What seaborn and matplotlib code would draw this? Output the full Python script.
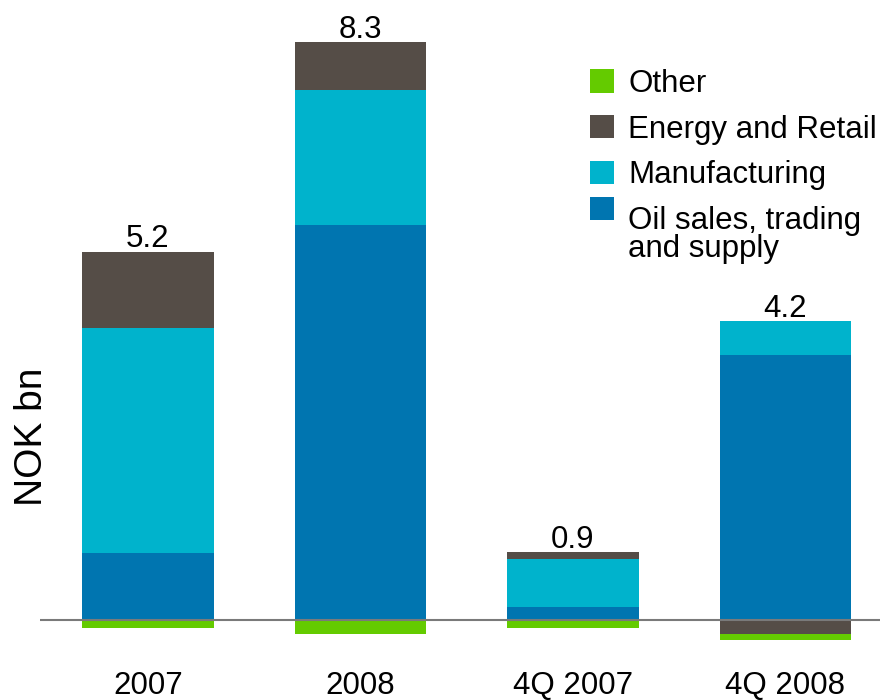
import matplotlib
matplotlib.use("Agg")
import matplotlib.pyplot as plt
import seaborn as sns
import numpy as np
import pandas as pd

# ---- data ----
categories = ["2007", "2008", "4Q 2007", "4Q 2008"]
oil_sales = [0.99, 5.84, 0.19, 3.92]
manufacturing = [3.33, 2.01, 0.71, 0.50]
energy_retail = [1.13, 0.71, 0.10, -0.21]
other = [-0.12, -0.21, -0.12, -0.10]
totals = [5.2, 8.3, 0.9, 4.2]

series_names = ["Oil sales, trading\nand supply", "Manufacturing", "Energy and Retail", "Other"]
series_values = [oil_sales, manufacturing, energy_retail, other]
series_colors = ["#0075B0", "#00B3CC", "#554D47", "#64CB00"]

sns.set_theme(style="white")
plt.rcParams["font.family"] = ["Liberation Sans", "DejaVu Sans"]
plt.rcParams["text.color"] = "black"
plt.rcParams["axes.labelcolor"] = "black"
plt.rcParams["xtick.color"] = "black"

fig = plt.figure(figsize=(8.8, 7.0), dpi=100)
ax = fig.add_axes([40 / 880, 40 / 700, 840 / 880, 660 / 700])

pos_bottom = np.zeros(len(categories))
neg_bottom = np.zeros(len(categories))
for name, vals, col in zip(series_names, series_values, series_colors):
    vals = np.array(vals, dtype=float)
    bottom = np.where(vals >= 0, pos_bottom, neg_bottom)
    df = pd.DataFrame({"cat": categories, "val": vals})
    sns.barplot(data=df, x="cat", y="val", order=categories, color=col,
                saturation=1, width=0.62, errorbar=None, bottom=bottom,
                label=name, linewidth=0, ax=ax)
    pos_bottom = pos_bottom + np.where(vals >= 0, vals, 0)
    neg_bottom = neg_bottom + np.where(vals < 0, vals, 0)

ax.axhline(0, color="#7a7a7a", lw=1.5, zorder=5)

# totals above bars
for i, t in enumerate(totals):
    ax.annotate(f"{t:.1f}", xy=(i, pos_bottom[i]), xytext=(0, 3),
                textcoords="offset points", ha="center", va="baseline",
                fontsize=22.5, color="black")

ax.set_xlim(-0.508, 3.445)
ax.set_ylim(-0.6, 9.178)
ax.set_yticks([])
ax.set_xlabel("")
ax.tick_params(axis="x", length=0, pad=8, labelsize=22.5, labelcolor="black")
for s in ax.spines.values():
    s.set_visible(False)

ax.set_ylabel("NOK bn", fontsize=28, color="black")
ax.yaxis.label.set_rotation_mode("anchor")
ax.yaxis.label.set_va("center")
ax.yaxis.label.set_ha("center")
ax.yaxis.set_label_coords(-8 / 840, (660 - 437) / 660)

# legend (reverse order)
h, l = ax.get_legend_handles_labels()
if ax.get_legend() is not None:
    ax.get_legend().remove()
order = [3, 2, 1, 0]
leg = fig.legend([h[k] for k in order], [l[k] for k in order],
                 loc="upper left", bbox_to_anchor=(590 / 880, 1 - 69 / 700),
                 frameon=False, borderpad=0, borderaxespad=0,
                 fontsize=22.5, handlelength=0.77, handleheight=0.77,
                 handletextpad=0.45, labelspacing=0.5, labelcolor="black")
txts = leg.get_texts()
txts[3].set_linespacing(0.9)
# align the last square with the first line of its label
patch = leg.get_patches()[3]
patch.set_y(patch.get_y() + 19.4)

fig.savefig("out.png", dpi=100)
